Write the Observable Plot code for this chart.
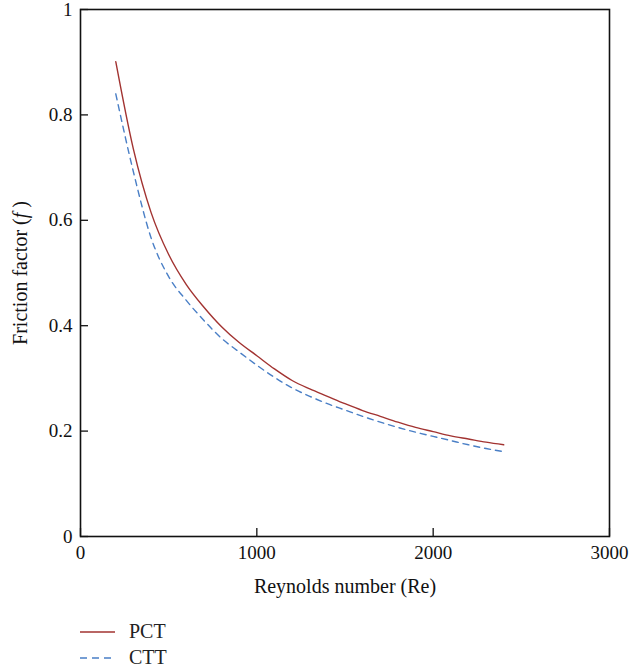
<!DOCTYPE html>
<html>
<head>
<meta charset="utf-8">
<script src="https://cdn.jsdelivr.net/npm/d3@7"></script>
<script src="https://cdn.jsdelivr.net/npm/@observablehq/plot@0.6"></script>
<style>
  body { margin: 0; background: #fff; font-family: "Liberation Serif", serif; }
  #chart svg, #chart svg text { font-family: "Liberation Serif", serif !important; }
  #legend { position: relative; height: 62px; }
  .item { position: absolute; left: 80px; display: flex; align-items: center; font-size: 20px; color: #222; font-family: "Liberation Serif", serif; }
  .item svg { margin-right: 14px; }
</style>
</head>
<body>
<div id="chart"></div>
<div id="legend"></div>
<script>
const reynolds = [200, 300, 400, 500, 600, 700, 800, 900, 1000, 1100, 1200, 1300, 1400, 1500, 1600, 1700, 1800, 1900, 2000, 2100, 2200, 2300, 2400];
const pct = [0.901, 0.735, 0.615, 0.535, 0.478, 0.435, 0.398, 0.368, 0.343, 0.318, 0.296, 0.280, 0.266, 0.252, 0.239, 0.228, 0.217, 0.207, 0.199, 0.191, 0.185, 0.179, 0.174];
const ctt = [0.840, 0.692, 0.567, 0.493, 0.448, 0.410, 0.376, 0.350, 0.325, 0.302, 0.282, 0.266, 0.252, 0.240, 0.228, 0.217, 0.207, 0.198, 0.190, 0.182, 0.174, 0.167, 0.161];
const xTicks = [0, 1000, 2000, 3000];
const yTicks = [0, 0.2, 0.4, 0.6, 0.8, 1];
const seriesNames = ["PCT", "CTT"];
const seriesColors = ["#a23331", "#4a7fc6"];

const pctData = reynolds.map((x, i) => ({x, y: pct[i]}));
const cttData = reynolds.map((x, i) => ({x, y: ctt[i]}));

const chart = Plot.plot({
  width: 642,
  height: 605,
  marginTop: 9,
  marginLeft: 80,
  marginRight: 33,
  marginBottom: 69,
  style: { fontFamily: "Liberation Serif, serif", fontSize: "19px", color: "#111", background: "#fff" },
  x: { domain: [0, 3000] },
  y: { domain: [0, 1] },
  marks: [
    Plot.axisX({ ticks: xTicks, tickSize: 0, tickPadding: 9, tickFormat: d => String(d), label: "Reynolds number (Re)", labelAnchor: "center", labelOffset: 56, labelArrow: "none", fontSize: 19 }),
    Plot.axisX({ ticks: xTicks, tickSize: -8, tickFormat: () => "", label: null, strokeWidth: 1.3 }),
    Plot.axisY({ ticks: yTicks, tickSize: 0, tickPadding: 8, tickFormat: d => String(d), label: "Friction factor (f)", labelAnchor: "center", labelOffset: 68, labelArrow: "none", fontSize: 19 }),
    Plot.axisY({ ticks: yTicks, tickSize: -8, tickFormat: () => "", label: null, strokeWidth: 1.3 }),
    Plot.line(pctData, { x: "x", y: "y", stroke: seriesColors[0], strokeWidth: 1.4, curve: "monotone-x" }),
    Plot.line(cttData, { x: "x", y: "y", stroke: seriesColors[1], strokeWidth: 1.4, strokeDasharray: "6,5", curve: "monotone-x" }),
    Plot.frame({ stroke: "#111", strokeWidth: 1.6 })
  ]
});
document.getElementById("chart").appendChild(chart);

chart.querySelectorAll("text").forEach(t => {
  t.setAttribute("font-family", "Liberation Serif, serif");
  t.style.fontFamily = "'Liberation Serif', serif";
  t.style.fontSize = "19px";
  if (t.textContent === "Friction factor (f)") {
    t.textContent = "";
    const ns = "http://www.w3.org/2000/svg";
    const a = document.createElementNS(ns, "tspan"); a.textContent = "Friction factor (";
    const b = document.createElementNS(ns, "tspan"); b.textContent = "f"; b.setAttribute("font-style", "italic");
    const c = document.createElementNS(ns, "tspan"); c.textContent = " )";
    t.append(a, b, c);
    t.style.fontSize = "20px";
  }
  if (t.textContent === "Reynolds number (Re)") t.style.fontSize = "20px";
});

const legend = document.getElementById("legend");
seriesNames.forEach((name, i) => {
  const div = document.createElement("div");
  div.className = "item";
  div.style.top = (i === 0 ? 15 : 41) + "px";
  const dash = i === 1 ? 'stroke-dasharray="7,5"' : "";
  div.innerHTML = `<svg width="35" height="10"><line x1="0" x2="35" y1="5" y2="5" stroke="${seriesColors[i]}" stroke-width="1.6" ${dash}/></svg><span>${name}</span>`;
  legend.appendChild(div);
});
</script>
</body>
</html>
